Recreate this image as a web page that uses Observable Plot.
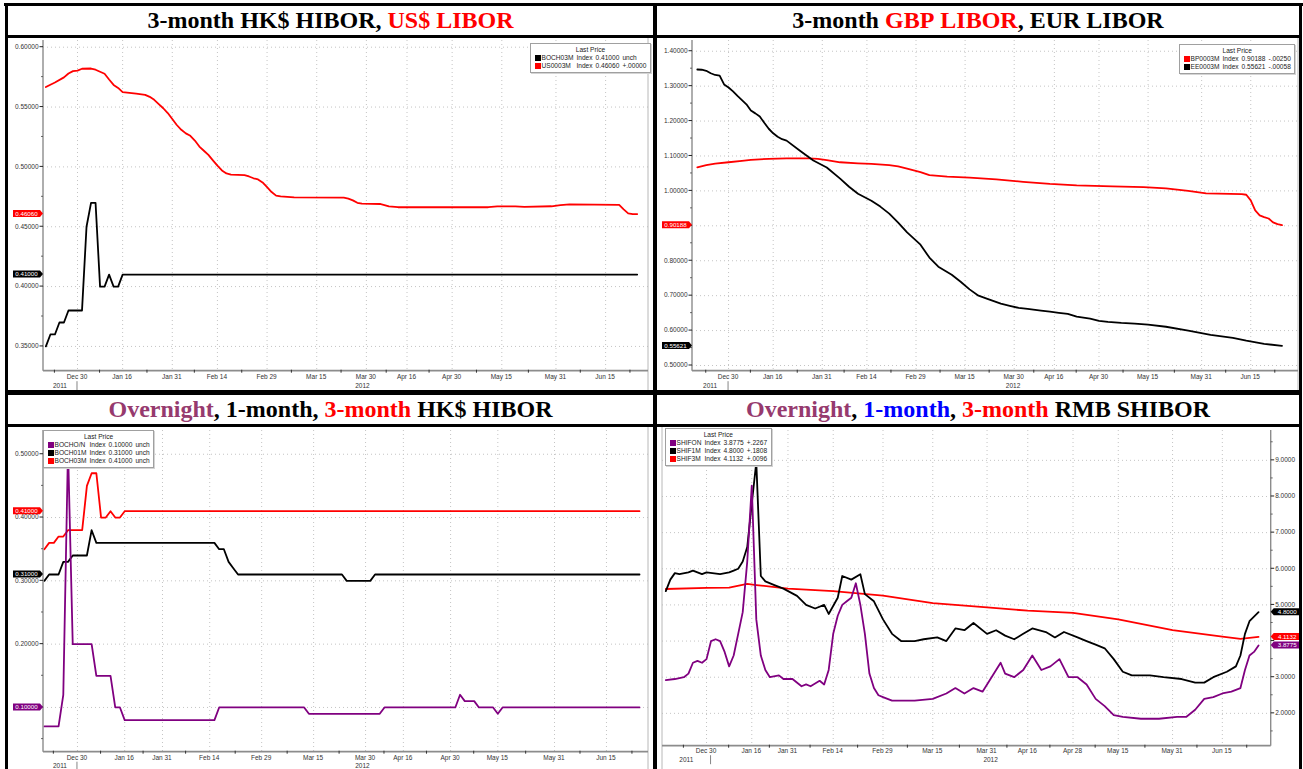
<!DOCTYPE html>
<html><head><meta charset="utf-8">
<script src="https://cdn.jsdelivr.net/npm/d3@7"></script>
<script src="https://cdn.jsdelivr.net/npm/@observablehq/plot@0.6"></script>
<style>
html,body{margin:0;padding:0;background:#fff;}
#root{position:relative;width:1303px;height:769px;overflow:hidden;background:#fff;}
.bar{position:absolute;background:#000;}
.title{position:absolute;height:29px;line-height:29px;text-align:center;font-family:"Liberation Serif","Times New Roman",serif;font-weight:bold;font-size:24px;color:#000;white-space:nowrap;}
.chart{position:absolute;}
.legend{position:absolute;background:#fff;border:1px solid #a0a0a0;box-shadow:1px 1px 0 #d4d4d4;font-family:"Liberation Sans",Arial,sans-serif;font-size:6.6px;color:#222;padding:1px 2px 2px 2px;}
.legend .hd{text-align:center;line-height:9px;}
.legend table{border-collapse:collapse;}
.legend td{padding:0 1.5px;line-height:8px;white-space:nowrap;}
.sw{display:inline-block;width:6px;height:6px;vertical-align:-1px;margin-right:1px;}
</style></head><body><div id="root"></div>
<script>
// ================= DATA =================
const hkHolidays = ["2011-12-26","2011-12-27","2012-01-02","2012-01-23","2012-01-24","2012-01-25","2012-04-04","2012-04-06","2012-04-09","2012-05-01"];
const londonHolidays = ["2011-12-26","2011-12-27","2012-01-02","2012-04-06","2012-04-09"];
const cnHolidays = ["2012-01-02","2012-01-03","2012-01-23","2012-01-24","2012-01-25","2012-01-26","2012-01-27","2012-04-02","2012-04-03","2012-04-04","2012-04-30","2012-05-01","2012-06-22"];
const cnWorkWeekends = ["2011-12-31","2012-01-21","2012-01-29","2012-03-31","2012-04-01","2012-04-28"];

const tickDatesHK = ["2011-12-30","2012-01-16","2012-01-31","2012-02-14","2012-02-29","2012-03-15","2012-03-30","2012-04-16","2012-04-30","2012-05-15","2012-05-31","2012-06-15"];
const tickDatesCN = ["2011-12-30","2012-01-16","2012-01-31","2012-02-14","2012-02-29","2012-03-15","2012-03-31","2012-04-16","2012-04-28","2012-05-15","2012-05-31","2012-06-15"];
const yearLabels = ["2011","2012"];

// HK$ 3-month HIBOR (BOCH03M)
const boch03m = [["2011-12-19",0.35],["2011-12-20",0.36],["2011-12-21",0.36],["2011-12-22",0.37],["2011-12-23",0.37],["2011-12-28",0.38],["2011-12-29",0.38],["2011-12-30",0.38],["2012-01-03",0.38],["2012-01-04",0.45],["2012-01-05",0.47],["2012-01-06",0.47],["2012-01-09",0.40],["2012-01-10",0.40],["2012-01-11",0.41],["2012-01-12",0.40],["2012-01-13",0.40],["2012-01-16",0.41],["2012-06-26",0.41]];
// US$ 3-month LIBOR (US0003M)
const us0003m = [["2011-12-19",0.5667],["2011-12-21",0.5705],["2011-12-23",0.5748],["2011-12-28",0.5780],["2011-12-29",0.5800],["2011-12-30",0.5805],["2012-01-03",0.5820],["2012-01-05",0.5822],["2012-01-06",0.5812],["2012-01-09",0.5795],["2012-01-10",0.5778],["2012-01-11",0.5730],["2012-01-12",0.5685],["2012-01-13",0.5660],["2012-01-16",0.5625],["2012-01-19",0.5612],["2012-01-23",0.5602],["2012-01-24",0.5585],["2012-01-25",0.5560],["2012-01-26",0.5525],["2012-01-27",0.5490],["2012-01-30",0.5450],["2012-01-31",0.5400],["2012-02-01",0.5350],["2012-02-02",0.5310],["2012-02-03",0.5280],["2012-02-06",0.5260],["2012-02-07",0.5220],["2012-02-08",0.5170],["2012-02-09",0.5135],["2012-02-10",0.5100],["2012-02-13",0.5055],["2012-02-14",0.5010],["2012-02-15",0.4970],["2012-02-16",0.4945],["2012-02-17",0.4935],["2012-02-22",0.4932],["2012-02-23",0.4920],["2012-02-24",0.4905],["2012-02-27",0.4895],["2012-02-28",0.4870],["2012-02-29",0.4830],["2012-03-01",0.4790],["2012-03-02",0.4760],["2012-03-05",0.4753],["2012-03-08",0.4746],["2012-03-23",0.4743],["2012-03-26",0.4735],["2012-03-27",0.4720],["2012-03-28",0.4700],["2012-03-29",0.4693],["2012-04-04",0.4690],["2012-04-05",0.4681],["2012-04-10",0.4670],["2012-04-12",0.4663],["2012-05-10",0.4663],["2012-05-14",0.4670],["2012-05-18",0.4670],["2012-05-22",0.4666],["2012-05-30",0.4671],["2012-06-01",0.4681],["2012-06-05",0.4686],["2012-06-20",0.4683],["2012-06-21",0.4645],["2012-06-22",0.4612],["2012-06-25",0.4606],["2012-06-26",0.4606]];
// GBP 3-month LIBOR (BP0003M)
const bp0003m = [["2011-12-19",1.0676],["2011-12-21",1.0740],["2011-12-23",1.0780],["2011-12-30",1.0820],["2012-01-05",1.0860],["2012-01-09",1.0890],["2012-01-13",1.0920],["2012-01-19",1.0930],["2012-01-26",1.0930],["2012-01-30",1.0915],["2012-02-01",1.0880],["2012-02-06",1.0820],["2012-02-10",1.0790],["2012-02-15",1.0775],["2012-02-21",1.0740],["2012-02-23",1.0700],["2012-02-27",1.0640],["2012-03-01",1.0540],["2012-03-05",1.0450],["2012-03-09",1.0410],["2012-03-16",1.0380],["2012-03-26",1.0330],["2012-04-03",1.0260],["2012-04-13",1.0200],["2012-04-23",1.0160],["2012-05-03",1.0130],["2012-05-14",1.0110],["2012-05-21",1.0070],["2012-05-28",1.0000],["2012-06-01",0.9930],["2012-06-13",0.9910],["2012-06-14",0.9890],["2012-06-15",0.9730],["2012-06-18",0.9440],["2012-06-19",0.9300],["2012-06-20",0.9250],["2012-06-21",0.9210],["2012-06-22",0.9100],["2012-06-25",0.9050],["2012-06-26",0.90188]];
// EUR 3-month LIBOR (EE0003M)
const ee0003m = [["2011-12-19",1.3476],["2011-12-20",1.3470],["2011-12-21",1.3440],["2011-12-22",1.3370],["2011-12-23",1.3320],["2011-12-28",1.3300],["2011-12-29",1.3050],["2011-12-30",1.2960],["2012-01-03",1.2850],["2012-01-04",1.2720],["2012-01-05",1.2600],["2012-01-06",1.2480],["2012-01-09",1.2300],["2012-01-10",1.2220],["2012-01-11",1.2130],["2012-01-12",1.1950],["2012-01-13",1.1780],["2012-01-16",1.1650],["2012-01-17",1.1550],["2012-01-18",1.1480],["2012-01-19",1.1440],["2012-01-24",1.1150],["2012-01-27",1.0870],["2012-02-01",1.0670],["2012-02-06",1.0350],["2012-02-08",1.0120],["2012-02-10",0.9920],["2012-02-15",0.9720],["2012-02-17",0.9550],["2012-02-21",0.9350],["2012-02-23",0.9090],["2012-02-27",0.8810],["2012-03-01",0.8460],["2012-03-05",0.8090],["2012-03-07",0.7830],["2012-03-12",0.7600],["2012-03-14",0.7400],["2012-03-16",0.7180],["2012-03-20",0.7000],["2012-03-22",0.6910],["2012-03-27",0.6770],["2012-03-29",0.6710],["2012-04-02",0.6650],["2012-04-04",0.6620],["2012-04-11",0.6570],["2012-04-13",0.6540],["2012-04-17",0.6510],["2012-04-19",0.6480],["2012-04-23",0.6400],["2012-04-26",0.6340],["2012-04-30",0.6280],["2012-05-02",0.6250],["2012-05-07",0.6220],["2012-05-10",0.6200],["2012-05-15",0.6170],["2012-05-21",0.6110],["2012-05-28",0.6000],["2012-06-04",0.5880],["2012-06-11",0.5790],["2012-06-14",0.5710],["2012-06-20",0.5620],["2012-06-26",0.55621]];
// HK$ 1-month HIBOR (BOCH01M)
const boch01m = [["2011-12-19",0.30],["2011-12-20",0.31],["2011-12-22",0.31],["2011-12-23",0.33],["2011-12-28",0.33],["2011-12-29",0.34],["2012-01-04",0.34],["2012-01-05",0.38],["2012-01-06",0.36],["2012-02-15",0.36],["2012-02-16",0.35],["2012-02-17",0.35],["2012-02-20",0.33],["2012-02-21",0.32],["2012-02-22",0.31],["2012-03-23",0.31],["2012-03-26",0.30],["2012-04-02",0.30],["2012-04-03",0.31],["2012-06-26",0.31]];
// HK$ overnight HIBOR (BOCHO/N)
const bochON = [["2011-12-19",0.07],["2011-12-22",0.07],["2011-12-23",0.12],["2011-12-28",0.51],["2011-12-29",0.20],["2012-01-05",0.20],["2012-01-06",0.15],["2012-01-11",0.15],["2012-01-12",0.10],["2012-01-13",0.10],["2012-01-16",0.08],["2012-02-15",0.08],["2012-02-16",0.10],["2012-03-13",0.10],["2012-03-14",0.09],["2012-04-05",0.09],["2012-04-10",0.10],["2012-05-02",0.10],["2012-05-03",0.12],["2012-05-04",0.11],["2012-05-08",0.11],["2012-05-09",0.10],["2012-05-14",0.10],["2012-05-15",0.09],["2012-05-16",0.10],["2012-06-26",0.10]];
// RMB SHIBOR overnight (SHIFON)
const shifON = [["2011-12-19",2.92],["2011-12-21",2.95],["2011-12-23",3.0],["2011-12-26",3.1],["2011-12-27",3.4],["2011-12-28",3.45],["2011-12-29",3.4],["2011-12-30",3.5],["2011-12-31",4.0],["2012-01-04",4.05],["2012-01-05",4.0],["2012-01-06",3.7],["2012-01-09",3.3],["2012-01-10",3.6],["2012-01-11",4.2],["2012-01-12",4.8],["2012-01-13",6.2],["2012-01-16",8.3],["2012-01-17",4.6],["2012-01-18",3.6],["2012-01-19",3.2],["2012-01-20",3.0],["2012-01-29",3.05],["2012-01-30",2.95],["2012-02-01",2.95],["2012-02-03",2.75],["2012-02-06",2.8],["2012-02-07",2.75],["2012-02-09",2.9],["2012-02-10",2.8],["2012-02-13",3.2],["2012-02-14",4.2],["2012-02-15",4.7],["2012-02-16",5.0],["2012-02-17",5.1],["2012-02-20",5.2],["2012-02-21",5.6],["2012-02-22",5.0],["2012-02-23",4.2],["2012-02-24",3.1],["2012-02-27",2.7],["2012-02-28",2.5],["2012-02-29",2.45],["2012-03-02",2.35],["2012-03-09",2.35],["2012-03-15",2.4],["2012-03-20",2.55],["2012-03-22",2.7],["2012-03-26",2.55],["2012-03-28",2.7],["2012-03-30",2.6],["2012-04-01",3.0],["2012-04-06",3.4],["2012-04-09",3.1],["2012-04-11",3.0],["2012-04-13",3.2],["2012-04-17",3.6],["2012-04-19",3.2],["2012-04-23",3.3],["2012-04-25",3.5],["2012-04-27",3.0],["2012-05-02",3.0],["2012-05-04",2.8],["2012-05-08",2.4],["2012-05-10",2.2],["2012-05-14",1.95],["2012-05-16",1.9],["2012-05-22",1.85],["2012-05-28",1.85],["2012-06-01",1.9],["2012-06-05",1.9],["2012-06-07",2.1],["2012-06-11",2.4],["2012-06-13",2.45],["2012-06-15",2.55],["2012-06-19",2.6],["2012-06-21",2.7],["2012-06-25",3.2],["2012-06-26",3.6],["2012-06-27",3.7],["2012-06-28",3.8775]];
// RMB SHIBOR 1-month (SHIF1M)
const shif1m = [["2011-12-19",5.38],["2011-12-20",5.7],["2011-12-21",5.88],["2011-12-22",5.85],["2011-12-26",5.9],["2011-12-27",5.95],["2011-12-29",5.85],["2011-12-30",5.9],["2012-01-05",5.85],["2012-01-09",5.9],["2012-01-10",5.95],["2012-01-11",6.0],["2012-01-12",6.2],["2012-01-13",6.6],["2012-01-16",7.8],["2012-01-17",8.95],["2012-01-18",5.8],["2012-01-19",5.65],["2012-01-21",5.55],["2012-01-30",5.45],["2012-02-02",5.25],["2012-02-06",5.0],["2012-02-08",4.9],["2012-02-10",5.0],["2012-02-13",4.75],["2012-02-15",5.2],["2012-02-16",5.8],["2012-02-20",5.7],["2012-02-22",5.85],["2012-02-23",5.3],["2012-02-27",5.1],["2012-02-29",4.6],["2012-03-02",4.2],["2012-03-06",4.0],["2012-03-09",4.0],["2012-03-13",4.05],["2012-03-16",4.1],["2012-03-20",4.0],["2012-03-22",4.35],["2012-03-26",4.3],["2012-03-28",4.5],["2012-03-31",4.2],["2012-04-05",4.3],["2012-04-09",4.15],["2012-04-11",4.05],["2012-04-13",4.2],["2012-04-17",4.35],["2012-04-20",4.25],["2012-04-24",4.1],["2012-04-26",4.25],["2012-05-02",4.1],["2012-05-04",4.0],["2012-05-08",3.9],["2012-05-10",3.8],["2012-05-14",3.5],["2012-05-16",3.15],["2012-05-18",3.05],["2012-05-24",3.05],["2012-05-29",3.0],["2012-06-04",2.95],["2012-06-07",2.85],["2012-06-11",2.85],["2012-06-13",3.0],["2012-06-18",3.15],["2012-06-20",3.3],["2012-06-21",3.6],["2012-06-25",4.2],["2012-06-26",4.55],["2012-06-28",4.8]];
// RMB SHIBOR 3-month (SHIF3M)
const shif3m = [["2011-12-19",5.44],["2011-12-30",5.47],["2012-01-09",5.48],["2012-01-13",5.58],["2012-01-17",5.55],["2012-01-31",5.45],["2012-02-14",5.38],["2012-02-29",5.26],["2012-03-15",5.05],["2012-03-31",4.93],["2012-04-16",4.84],["2012-04-28",4.78],["2012-05-15",4.6],["2012-05-31",4.3],["2012-06-15",4.12],["2012-06-21",4.06],["2012-06-28",4.1132]];

// legend rows
const legend1 = [["#000","BOCH03M","0.41000","unch"],["#ff0000","US0003M","0.46060","+.00000"]];
const legend2 = [["#ff0000","BP0003M","0.90188","-.00250"],["#000","EE0003M","0.55621","-.00058"]];
const legend3 = [["#800080","BOCHO/N","0.10000","unch"],["#000","BOCH01M","0.31000","unch"],["#ff0000","BOCH03M","0.41000","unch"]];
const legend4 = [["#800080","SHIFON","3.8775","+.2267"],["#000","SHIF1M","4.8000","+.1808"],["#ff0000","SHIF3M","4.1132","+.0096"]];

// titles (text pieces + colour)
const title1 = [["3-month HK$ HIBOR, ","#000"],["US$ LIBOR","#ff0000"]];
const title2 = [["3-month ","#000"],["GBP LIBOR","#ff0000"],[", EUR LIBOR","#000"]];
const title3 = [["Overnight","#963a6e"],[", 1-month, ","#000"],["3-month","#ff0000"],[" HK$ HIBOR","#000"]];
const title4 = [["Overnight","#963a6e"],[", ","#000"],["1-month","#0000ff"],[", ","#000"],["3-month","#ff0000"],[" RMB SHIBOR","#000"]];

// ================= HELPERS =================
const FONT = '"Liberation Sans", Arial, sans-serif';
const parseD = d3.utcParse("%Y-%m-%d");
const isoD = d3.utcFormat("%Y-%m-%d");
const fmtDay = d3.utcFormat("%b %-d");

function makeCalendar(start, end, holidays, extra = []) {
  const hol = new Set(holidays), ext = new Set(extra);
  const list = d3.utcDay.range(parseD(start), d3.utcDay.offset(parseD(end), 1)).map(isoD)
    .filter(s => { const wd = parseD(s).getUTCDay(); return ext.has(s) || (wd !== 0 && wd !== 6 && !hol.has(s)); });
  const pos = new Map(list.map((s, i) => [s, i]));
  return s => pos.has(s) ? pos.get(s) : d3.bisectLeft(list, s) - 0.5;
}
const calLondon = makeCalendar("2011-12-19", "2012-07-06", londonHolidays);
const calHK = makeCalendar("2011-12-19", "2012-07-06", hkHolidays);
const calCN = makeCalendar("2011-12-19", "2012-07-06", cnHolidays, cnWorkWeekends);

const root = document.getElementById("root");
function el(cls, css, html) {
  const d = document.createElement("div"); d.className = cls;
  Object.assign(d.style, css); if (html != null) d.innerHTML = html; root.appendChild(d); return d;
}

function panel(cfg) {
  const tickIdx = cfg.tickDates.map(cfg.cal);
  const labels = cfg.tickDates.map(s => fmtDay(parseD(s)));
  const [xa, xb] = cfg.xDomain;
  const minor = [];
  for (let i = 0; i < tickIdx.length - 1; i++) minor.push((tickIdx[i] + tickIdx[i + 1]) / 2);
  minor.unshift(tickIdx[0] - (tickIdx[1] - tickIdx[0]) / 2);
  minor.push(tickIdx[tickIdx.length - 1] + (tickIdx[tickIdx.length - 1] - tickIdx[tickIdx.length - 2]) / 2);
  const minorIn = minor.filter(v => v > xa && v < xb);
  const boundary = cfg.cal(cfg.lastOf2011);
  const yearPos = [(xa + boundary) / 2, (boundary + xb) / 2];
  const hidden = new Set(cfg.yHidden || []);

  const decor = (index, scales, values, dim) => {
    const X = scales.x, Y = scales.y;
    const left = dim.marginLeft, right = dim.width - dim.marginRight;
    const top = dim.marginTop, bottom = dim.height - dim.marginBottom;
    const g = d3.create("svg:g").attr("font-family", FONT).attr("font-size", 6.5).attr("fill", "#333");
    const ax = cfg.side === "left" ? left : right, dir = cfg.side === "left" ? -1 : 1;
    const edge = cfg.side === "left" ? right : left;
    g.append("line").attr("x1", edge).attr("x2", edge).attr("y1", 0).attr("y2", dim.height).attr("stroke", "#b8b8b8").attr("stroke-width", 1);
    g.append("line").attr("x1", ax).attr("x2", ax).attr("y1", top).attr("y2", bottom).attr("stroke", "#8c8c8c").attr("stroke-width", 1.4);
    g.append("line").attr("x1", left).attr("x2", right).attr("y1", bottom).attr("y2", bottom).attr("stroke", "#8c8c8c").attr("stroke-width", 1.8);
    for (const v of cfg.yMinor) g.append("line").attr("x1", ax).attr("x2", ax + dir * 2).attr("y1", Y(v)).attr("y2", Y(v)).attr("stroke", "#444").attr("stroke-width", 0.8);
    for (const v of cfg.yTicks) {
      g.append("line").attr("x1", ax).attr("x2", ax + dir * 3.5).attr("y1", Y(v)).attr("y2", Y(v)).attr("stroke", "#222").attr("stroke-width", 1);
      if (hidden.has(v)) continue;
      g.append("text").attr("x", ax + dir * 4.5).attr("y", Y(v)).attr("dy", "0.35em")
        .attr("text-anchor", dir < 0 ? "end" : "start").text(cfg.yFmt(v));
    }
    for (const v of minorIn) g.append("line").attr("x1", X(v)).attr("x2", X(v)).attr("y1", bottom - 1).attr("y2", bottom + 2).attr("stroke", "#333").attr("stroke-width", 1);
    tickIdx.forEach((v, i) => {
      g.append("text").attr("x", X(v)).attr("y", bottom + cfg.labelOff).attr("dy", "0.35em").attr("text-anchor", "middle").text(labels[i]);
    });
    g.append("line").attr("x1", X(boundary)).attr("x2", X(boundary)).attr("y1", bottom + cfg.labelOff + 4).attr("y2", bottom + cfg.labelOff + 13).attr("stroke", "#666").attr("stroke-width", 0.8);
    yearLabels.forEach((t, i) => {
      g.append("text").attr("x", X(yearPos[i])).attr("y", bottom + cfg.labelOff + 8.5).attr("dy", "0.35em").attr("text-anchor", "middle").text(t);
    });
    for (const t of cfg.tags) {
      const py = Y(t.value), h = 7, w = 27;
      const tip = ax, base = ax + dir * 3, far = ax + dir * (w + 3);
      g.append("polygon").attr("points", [[tip, py], [base, py - h / 2], [far, py - h / 2], [far, py + h / 2], [base, py + h / 2]].map(p => p.join(",")).join(" "))
        .attr("fill", t.color);
      g.append("text").attr("x", (base + far) / 2).attr("y", py).attr("dy", "0.35em").attr("text-anchor", "middle").attr("font-size", 6.2).attr("fill", "#fff").text(t.label);
    }
    return g.node();
  };

  const svg = Plot.plot({
    width: cfg.width, height: cfg.height,
    marginLeft: cfg.margin[0], marginRight: cfg.margin[1], marginTop: cfg.margin[2], marginBottom: cfg.margin[3],
    x: {type: "linear", domain: cfg.xDomain, axis: null},
    y: {type: "linear", domain: cfg.yDomain, axis: null},
    style: {background: "transparent", overflow: "visible"},
    marks: [
      Plot.ruleY(cfg.yTicks, {stroke: "#c4c4c4", strokeDasharray: "1,3"}),
      Plot.ruleX(tickIdx, {stroke: "#c4c4c4", strokeDasharray: "1,3"}),
      ...cfg.series.map(s => Plot.line(s.data, {x: d => cfg.cal(d[0]), y: d => d[1], stroke: s.color, strokeWidth: 1.8})),
      decor
    ]
  });
  const box = el("chart", {left: cfg.pos[0] + "px", top: cfg.pos[1] + "px", width: cfg.width + "px", height: cfg.height + "px"});
  box.appendChild(svg);
}

function legend(pos, rows) {
  el("legend", {left: pos[0] + "px", top: pos[1] + "px"},
    `<div class="hd">Last Price</div><table>${rows.map(r => `<tr><td><span class="sw" style="background:${r[0]}"></span>${r[1]}</td><td>Index</td><td>${r[2]}</td><td>${r[3]}</td></tr>`).join("")}</table>`);
}
function title(pos, w, parts) {
  el("title", {left: pos[0] + "px", top: pos[1] + "px", width: w + "px"},
    parts.map(p => `<span style="color:${p[1]}">${p[0].replace(/ /g, "&nbsp;")}</span>`).join(""));
}

// ================= LAYOUT =================
const fmt5 = d3.format(".5f"), fmt4 = d3.format(".4f");

panel({pos: [8, 38], width: 645, height: 352, margin: [35, 5, 2, 19.3], side: "left", labelOff: 6.5,
  cal: calLondon, xDomain: [-0.53, 133.5], yDomain: [0.3293, 0.6056],
  yTicks: [0.35, 0.40, 0.45, 0.50, 0.55, 0.60], yMinor: [0.375, 0.425, 0.475, 0.525, 0.575], yFmt: fmt5,
  tickDates: tickDatesHK, lastOf2011: "2011-12-30",
  series: [{data: us0003m, color: "#ff0000"}, {data: boch03m, color: "#000"}],
  tags: [{value: 0.46060, label: "0.46060", color: "#ff0000"}, {value: 0.41, label: "0.41000", color: "#000"}]});

panel({pos: [657, 38], width: 642, height: 352, margin: [35, 1, 2, 19.3], side: "left", labelOff: 6.5,
  cal: calLondon, xDomain: [-1.08, 134.7], yDomain: [0.4837, 1.4307],
  yTicks: [0.5, 0.6, 0.7, 0.8, 0.9, 1.0, 1.1, 1.2, 1.3, 1.4], yMinor: [0.55, 0.65, 0.75, 0.85, 0.95, 1.05, 1.15, 1.25, 1.35], yFmt: fmt5,
  yHidden: [0.9],
  tickDates: tickDatesHK, lastOf2011: "2011-12-30",
  series: [{data: bp0003m, color: "#ff0000"}, {data: ee0003m, color: "#000"}],
  tags: [{value: 0.90188, label: "0.90188", color: "#ff0000"}, {value: 0.55621, label: "0.55621", color: "#000"}]});

panel({pos: [8, 427], width: 645, height: 342, margin: [35, 5, 3, 17.3], side: "left", labelOff: 6,
  cal: calHK, xDomain: [-0.19, 127.9], yDomain: [0.0293, 0.5375],
  yTicks: [0.1, 0.2, 0.3, 0.4, 0.5], yMinor: [0.05, 0.15, 0.25, 0.35, 0.45], yFmt: fmt5,
  yHidden: [0.1],
  tickDates: tickDatesHK, lastOf2011: "2011-12-30",
  series: [{data: boch03m, color: "#ff0000"}, {data: boch01m, color: "#000"}, {data: bochON, color: "#800080"}],
  tags: [{value: 0.41, label: "0.41000", color: "#ff0000"}, {value: 0.31, label: "0.31000", color: "#000"}, {value: 0.10, label: "0.10000", color: "#800080"}]});

panel({pos: [657, 427], width: 642, height: 342, margin: [5, 28.3, 3, 23.3], side: "right", labelOff: 5.5,
  cal: calCN, xDomain: [-0.73, 133.8], yDomain: [1.091, 9.826],
  yTicks: [2, 3, 4, 5, 6, 7, 8, 9], yMinor: [1.5, 2.5, 3.5, 4.5, 5.5, 6.5, 7.5, 8.5, 9.5], yFmt: fmt4,
  yHidden: [4],
  tickDates: tickDatesCN, lastOf2011: "2011-12-31",
  series: [{data: shif3m, color: "#ff0000"}, {data: shif1m, color: "#000"}, {data: shifON, color: "#800080"}],
  tags: [{value: 4.8, label: "4.8000", color: "#000"}, {value: 4.1132, label: "4.1132", color: "#ff0000"}, {value: 3.8775, label: "3.8775", color: "#800080"}]});

legend([530, 43], legend1);
legend([1179, 44], legend2);
legend([43, 430], legend3);
legend([665, 428], legend4);

title([8, 6], 645, title1);
title([657, 6], 642, title2);
title([8, 395], 645, title3);
title([657, 395], 642, title4);

[[4, 3, 1299, 3], [5, 3, 3, 766], [1299, 3, 3, 766], [653, 3, 4, 766], [5, 35, 1297, 3], [5, 390, 1297, 5], [5, 424, 1297, 3]]
  .forEach(b => el("bar", {left: b[0] + "px", top: b[1] + "px", width: b[2] + "px", height: b[3] + "px"}));
</script></body></html>
